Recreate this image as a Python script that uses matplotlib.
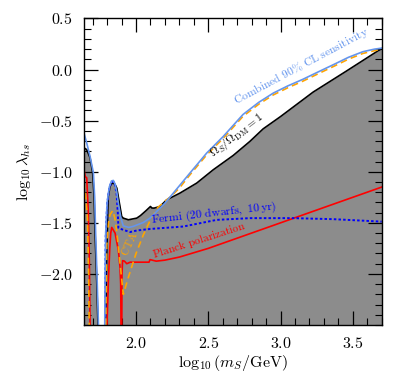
import numpy as np
import matplotlib
matplotlib.use('Agg')
import matplotlib.pyplot as plt
from matplotlib.ticker import MultipleLocator

plt.rcParams['mathtext.fontset'] = 'cm'
plt.rcParams['font.family'] = 'serif'
plt.rcParams['font.serif'] = ['cmr10', 'DejaVu Serif']
plt.rcParams['axes.formatter.use_mathtext'] = True

# relic density line, Omega_S / Omega_DM = 1 (values below -2.5 lie off the axes)
relic_x = [1.640, 1.659, 1.682, 1.700, 1.710, 1.716, 1.728, 1.739, 1.745, 1.783, 1.789,
           1.795, 1.801, 1.808, 1.820, 1.832, 1.843, 1.855, 1.867, 1.885, 1.901, 1.912,
           1.947, 2.005, 2.030, 2.070, 2.100, 2.110, 2.125, 2.166, 2.212, 2.304, 2.420,
           2.535, 2.673, 2.788, 2.880, 3.000, 3.226, 3.450, 3.676, 3.700]
relic_y = [-0.765, -0.784, -0.863, -1.010, -1.245, -1.570, -2.060, -2.600, -3.000, -3.000, -2.600,
           -2.000, -1.600, -1.242, -1.144, -1.115, -1.111, -1.125, -1.160, -1.307, -1.438, -1.454,
           -1.470, -1.454, -1.430, -1.380, -1.340, -1.355, -1.356, -1.340, -1.275, -1.209, -1.111,
           -0.980, -0.840, -0.703, -0.580, -0.460, -0.220, -0.020, 0.185, 0.203]

# combined 90% CL sensitivity
comb_x = [1.640, 1.659, 1.682, 1.705, 1.714, 1.720, 1.731, 1.742, 1.748, 1.778, 1.783,
          1.786, 1.790, 1.800, 1.815, 1.830, 1.843, 1.855, 1.866, 1.878, 1.895, 1.912,
          1.950, 1.980, 2.050, 2.097, 2.154, 2.200, 2.258, 2.373, 2.489, 2.604, 2.740,
          2.850, 2.950, 3.050, 3.155, 3.250, 3.376, 3.470, 3.570, 3.650, 3.700]
comb_y = [-0.62, -0.72, -0.85, -1.01, -1.25, -1.57, -2.06, -2.60, -3.00, -3.00, -2.60,
          -2.00, -1.60, -1.30, -1.15, -1.09, -1.085, -1.12, -1.19, -1.31, -1.45, -1.53,
          -1.545, -1.535, -1.497, -1.454, -1.373, -1.307, -1.209, -1.013, -0.817, -0.654, -0.440,
          -0.320, -0.230, -0.160, -0.095, -0.030, 0.055, 0.120, 0.175, 0.200, 0.210]

# CTA
cta_x = [1.640, 1.655, 1.664, 1.672, 1.677, 1.683, 1.784, 1.790, 1.797, 1.810, 1.820,
         1.839, 1.853, 1.866, 1.889, 1.912, 1.950, 2.000, 2.050, 2.100, 2.150, 2.200,
         2.250, 2.300, 2.373, 2.489, 2.604, 2.740, 2.850, 2.950, 3.050, 3.155, 3.250,
         3.376, 3.470, 3.570, 3.650, 3.700]
cta_y = [-1.10, -1.30, -1.45, -2.00, -2.60, -3.00, -3.00, -2.60, -1.73, -1.50, -1.42,
         -1.38, -1.45, -1.58, -1.89, -2.20, -2.02, -1.80, -1.62, -1.47, -1.35, -1.29,
         -1.23, -1.16, -1.03, -0.835, -0.672, -0.458, -0.338, -0.248, -0.178, -0.113, -0.048,
         0.037, 0.102, 0.158, 0.185, 0.200]

# Planck polarization
planck_x = [1.640, 1.648, 1.659, 1.670, 1.677, 1.682, 1.688, 1.790, 1.797, 1.809, 1.818,
            1.825, 1.832, 1.855, 1.878, 1.889, 1.894, 1.897, 1.900, 1.903, 1.907, 1.920,
            1.936, 1.960, 2.090, 2.097, 2.140, 2.200, 2.300, 2.500, 3.000, 3.500, 3.700]
planck_y = [-0.98, -1.046, -1.06, -1.40, -1.895, -2.50, -3.00, -3.00, -2.60, -2.06, -1.76,
            -1.60, -1.545, -1.60, -1.77, -1.93, -2.10, -2.60, -3.00, -2.00, -1.87, -1.875,
            -1.90, -1.885, -1.885, -1.86, -1.875, -1.865, -1.835, -1.75, -1.50, -1.25, -1.15]

# Fermi (20 dwarfs, 10 yr)
fermi_x = [1.786, 1.790, 1.800, 1.815, 1.830, 1.843, 1.855, 1.866, 1.874, 1.878, 1.912,
           1.959, 2.005, 2.097, 2.327, 2.558, 2.788, 3.088, 3.365, 3.700]
fermi_y = [-2.60, -1.65, -1.32, -1.16, -1.10, -1.095, -1.13, -1.22, -1.40, -1.55, -1.569,
           -1.59, -1.575, -1.56, -1.536, -1.471, -1.454, -1.454, -1.464, -1.488]


def main():
    fig = plt.figure(figsize=(4.15, 3.83), dpi=100)
    ax = fig.add_axes([0.2024, 0.1514, 0.7173, 0.8003])

    ax.fill_between(relic_x, relic_y, -3.0, color='#8c8c8c', lw=0)
    ax.plot(relic_x, relic_y, color='black', lw=1.2)
    ax.plot(planck_x, planck_y, color='red', lw=1.2)
    ax.plot(fermi_x, fermi_y, color='blue', lw=1.4, ls=(0, (1.3, 1.1)))
    ax.plot(cta_x, cta_y, color='orange', lw=1.2, ls=(0, (4, 2.5)))
    ax.plot(comb_x, comb_y, color='cornflowerblue', lw=1.2)

    ax.text(3.145, 0.035, r'$\mathrm{Combined\ 90\%\ CL\ sensitivity}$',
            color='cornflowerblue', fontsize=8.3, rotation=28, ha='center', va='center')
    ax.text(2.70, -0.635, r'$\Omega_S/\Omega_{\rm DM}=1$', fontsize=8.5,
            rotation=37.5, ha='center', va='center')
    ax.text(2.54, -1.412, r'$\mathrm{Fermi\ (20\ dwarfs,\ 10\,yr)}$', color='blue',
            fontsize=8.5, rotation=6.3, ha='center', va='center')
    ax.text(2.44, -1.675, r'$\mathrm{Planck\ polarization}$', color='red',
            fontsize=8.2, rotation=17.8, ha='center', va='center')
    ax.text(1.955, -1.70, r'$\mathrm{CTA}$', color='orange',
            fontsize=8, rotation=65, ha='center', va='center')

    ax.set_xlim(1.64, 3.70)
    ax.set_ylim(-2.5, 0.5)
    ax.set_xticks([2.0, 2.5, 3.0, 3.5])
    ax.set_yticks([-2.0, -1.5, -1.0, -0.5, 0.0, 0.5])
    ax.xaxis.set_minor_locator(MultipleLocator(0.1))
    ax.yaxis.set_minor_locator(MultipleLocator(0.1))
    ax.tick_params(which='both', direction='in', top=True, right=True, labelsize=11.5)
    ax.tick_params(which='major', length=10, width=0.9, pad=8)
    ax.tick_params(which='minor', length=5, width=0.8)
    for s in ax.spines.values():
        s.set_linewidth(1.0)

    ax.set_xlabel(r'$\log_{10}(m_S/{\rm GeV})$', fontsize=11.5, labelpad=1)
    ax.set_ylabel(r'$\log_{10}\lambda_{hs}$', fontsize=11.5)

    fig.savefig('out.png', dpi=100)


if __name__ == '__main__':
    main()
